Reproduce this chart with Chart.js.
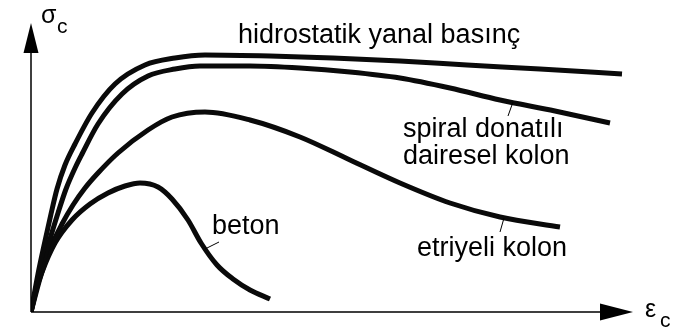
<!DOCTYPE html>
<html>
<head>
<meta charset="utf-8">
<script src="https://cdn.jsdelivr.net/npm/chart.js@4"></script>
<style>
  html, body { margin: 0; padding: 0; background: #fff; }
  #wrap { width: 681px; height: 329px; position: relative; }
</style>
</head>
<body>
<div id="wrap"><canvas id="c"></canvas></div>
<script>
// Strain (x) and stress (y) readings, arbitrary units
const hidroX = [0, 0.07, 0.14, 0.20, 0.26, 0.34, 0.44, 0.61, 0.84, 1.14, 1.44, 1.74, 2.39, 3.02, 3.69, 4.36, 5.09, 5.91];
const hidroY = [0, 0.38, 0.71, 0.98, 1.23, 1.47, 1.68, 1.99, 2.28, 2.47, 2.54, 2.57, 2.56, 2.54, 2.51, 2.47, 2.43, 2.38];

const spiralX = [0, 0.10, 0.19, 0.27, 0.35, 0.45, 0.51, 0.67, 0.91, 1.17, 1.44, 1.69, 2.19, 2.69, 3.19, 3.69, 4.19, 4.69, 5.24, 5.79];
const spiralY = [0, 0.42, 0.73, 0.99, 1.23, 1.46, 1.58, 1.88, 2.18, 2.36, 2.43, 2.46, 2.46, 2.44, 2.40, 2.34, 2.24, 2.12, 2.01, 1.89];

const etriyeX = [0, 0.10, 0.19, 0.31, 0.42, 0.54, 0.67, 0.87, 1.17, 1.41, 1.74, 2.19, 2.69, 3.19, 3.69, 4.19, 4.69, 5.29];
const etriyeY = [0, 0.37, 0.63, 0.88, 1.07, 1.24, 1.39, 1.59, 1.82, 1.95, 2.00, 1.92, 1.75, 1.52, 1.29, 1.09, 0.95, 0.85];

const betonX = [0, 0.05, 0.11, 0.24, 0.41, 0.59, 0.77, 0.94, 1.09, 1.27, 1.41, 1.57, 1.70, 1.86, 2.02, 2.19, 2.39];
const betonY = [0, 0.22, 0.40, 0.69, 0.92, 1.08, 1.19, 1.26, 1.29, 1.25, 1.13, 0.92, 0.69, 0.47, 0.33, 0.22, 0.13];

const axisMaxX = 6.02;
const axisMaxY = 2.89;

const seriesNames = ['hidrostatik yanal basınç', 'spiral donatılı dairesel kolon', 'etriyeli kolon', 'beton'];

function pts(xs, ys) { return xs.map((x, i) => ({ x: x, y: ys[i] })); }

const FONT = "'Liberation Sans', Arial, sans-serif";

const decor = {
  id: 'decor',
  afterDatasetsDraw(chart) {
    const ctx = chart.ctx;
    const a = chart.chartArea;
    const sx = chart.scales.x, sy = chart.scales.y;
    const X = v => sx.getPixelForValue(v), Y = v => sy.getPixelForValue(v);
    ctx.save();
    // axes
    ctx.strokeStyle = '#000';
    ctx.fillStyle = '#000';
    ctx.lineWidth = 1.5;
    ctx.beginPath();
    ctx.moveTo(a.left, a.bottom);
    ctx.lineTo(a.left, a.top + 30);
    ctx.moveTo(a.left, a.bottom);
    ctx.lineTo(a.right - 33, a.bottom);
    ctx.stroke();
    ctx.beginPath();
    ctx.moveTo(a.left, a.top);
    ctx.lineTo(a.left - 7.5, a.top + 30);
    ctx.lineTo(a.left + 7.5, a.top + 30);
    ctx.closePath();
    ctx.fill();
    ctx.beginPath();
    ctx.moveTo(a.right, a.bottom);
    ctx.lineTo(a.right - 33, a.bottom - 8.5);
    ctx.lineTo(a.right - 33, a.bottom + 8.5);
    ctx.closePath();
    ctx.fill();

    // leader lines
    ctx.lineWidth = 1;
    const leaders = [
      [4.82, 2.10, 4.77, 1.96],
      [4.73, 0.94, 4.69, 0.80],
      [1.88, 0.70, 1.74, 0.63]
    ];
    ctx.beginPath();
    leaders.forEach(l => { ctx.moveTo(X(l[0]), Y(l[1])); ctx.lineTo(X(l[2]), Y(l[3])); });
    ctx.stroke();

    // curve labels
    ctx.textAlign = 'left';
    ctx.textBaseline = 'alphabetic';
    ctx.fillStyle = '#000';
    ctx.font = '27px ' + FONT;
    ctx.fillText('hidrostatik yanal basınç', X(2.07), Y(2.69));
    ctx.fillText('spiral donatılı', X(3.72), Y(1.75));
    ctx.fillText('dairesel kolon', X(3.72), Y(1.48));
    ctx.fillText('etriyeli kolon', X(3.86), Y(0.56));
    ctx.fillText('beton', X(1.81), Y(0.78));

    // axis titles
    ctx.font = '25px ' + FONT;
    ctx.fillText('σ', a.left + 10, a.top);
    ctx.fillText('ε', a.right + 12, a.bottom + 5);
    ctx.font = '21px ' + FONT;
    ctx.fillText('c', a.left + 26, a.top + 10);
    ctx.fillText('c', a.right + 27, a.bottom + 15);
    ctx.restore();
  }
};

const lineStyle = { borderColor: '#0a0a0a', borderWidth: 5, pointRadius: 0, showLine: true, cubicInterpolationMode: 'monotone', fill: false, borderCapStyle: 'butt', borderJoinStyle: 'round' };

new Chart(document.getElementById('c'), {
  type: 'scatter',
  data: {
    datasets: [
      Object.assign({ label: seriesNames[0], data: pts(hidroX, hidroY) }, lineStyle),
      Object.assign({ label: seriesNames[1], data: pts(spiralX, spiralY) }, lineStyle),
      Object.assign({ label: seriesNames[2], data: pts(etriyeX, etriyeY) }, lineStyle),
      Object.assign({ label: seriesNames[3], data: pts(betonX, betonY) }, lineStyle)
    ]
  },
  options: {
    responsive: true,
    maintainAspectRatio: false,
    animation: false,
    layout: { padding: { left: 31, top: 23, right: 48, bottom: 17 } },
    plugins: { legend: { display: false }, tooltip: { enabled: false } },
    scales: {
      x: { type: 'linear', min: 0, max: axisMaxX, display: false },
      y: { type: 'linear', min: 0, max: axisMaxY, display: false }
    }
  },
  plugins: [decor]
});
</script>
</body>
</html>
